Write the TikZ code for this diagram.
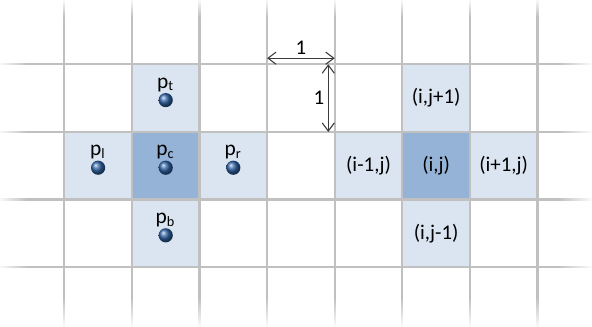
\documentclass[tikz,border=0pt]{standalone}
\usepackage{fontspec}
\setmainfont{Carlito}
\definecolor{gridgray}{RGB}{192, 192, 192}
\definecolor{cellblue}{RGB}{219, 229, 241}
\definecolor{centerblue}{RGB}{149, 179, 215}
\definecolor{balldark}{RGB}{48, 100, 165}
\definecolor{dimgray}{RGB}{60, 60, 60}
\usetikzlibrary{arrows.meta, positioning, fadings}
\tikzfading[name=fadetop, top color=transparent!10, bottom color=transparent!100]
\tikzfading[name=fadebottom, top color=transparent!100, bottom color=transparent!5]
\tikzfading[name=fadeleft, left color=transparent!10, right color=transparent!100]
\tikzfading[name=faderight, left color=transparent!100, right color=transparent!5]
\tikzset{
	gridline/.style={draw=gridgray, line width=0.9pt},
	cell/.style={fill=cellblue},
	centercell/.style={fill=centerblue},
	point/.style={circle, inner sep=0pt, minimum size=2.1mm, shading=ball, ball color=balldark},
	plabel/.style={font=\fontsize{9}{10}\selectfont, inner sep=0pt, anchor=base},
	idxlabel/.style={font=\fontsize{8.8}{10}\selectfont, inner sep=1pt},
	dimarrow/.style={{Straight Barb[length=1.2mm, width=1.8mm]}-{Straight Barb[length=1.2mm, width=1.8mm]}, draw=dimgray, line width=0.45pt},
	dimlabel/.style={font=\fontsize{8.8}{10}\selectfont, inner sep=1.5pt},
}

\begin{document}
\begin{tikzpicture}
		\useasboundingbox (-0.951,-0.886) rectangle (7.806,3.951);
		% cells
		\foreach \x/\y in {0/1, 2/1, 1/2, 1/0, 4/1, 6/1, 5/2, 5/0}
			\fill[cell] (\x,\y) rectangle ++(1,1);
		\fill[centercell] (1,1) rectangle ++(1,1);
		\fill[centercell] (5,1) rectangle ++(1,1);
		% grid
		\foreach \x in {0,...,7}
			\draw[gridline] (\x,-0.886) -- (\x,3.951);
		\foreach \y in {0,...,3}
			\draw[gridline] (-0.951,\y) -- (7.806,\y);
		\fill[white, path fading=fadetop] (-0.951,3.70) rectangle (7.806,3.951);
		\fill[white, path fading=fadebottom] (-0.951,-0.886) rectangle (7.806,-0.45);
		\fill[white, path fading=fadeleft] (-0.951,-0.886) rectangle (-0.55,3.951);
		\fill[white, path fading=faderight] (7.30,-0.886) rectangle (7.806,3.951);
		% points
		\node[point] (pt) at (1.5,2.47) {};
		\node[point] (pl) at (0.5,1.47) {};
		\node[point] (pc) at (1.5,1.47) {};
		\node[point] (pr) at (2.5,1.47) {};
		\node[point] (pb) at (1.5,0.47) {};
		\node[plabel] (ptlabel) at ([yshift=1.75mm]pt.center) {p\textsubscript{t}};
		\node[plabel] (pllabel) at ([yshift=1.75mm]pl.center) {p\textsubscript{l}};
		\node[plabel] (pclabel) at ([yshift=1.75mm]pc.center) {p\textsubscript{c}};
		\node[plabel] (prlabel) at ([yshift=1.75mm]pr.center) {p\textsubscript{r}};
		\node[plabel] (pblabel) at ([yshift=1.75mm]pb.center) {p\textsubscript{b}};
		% indices
		\node[idxlabel] (cij) at (5.5,1.5) {(i,j)};
		\node[idxlabel] (cimj) at (4.5,1.5) {(i-1,j)};
		\node[idxlabel] (cipj) at (6.5,1.5) {(i+1,j)};
		\node[idxlabel] (cijp) at (5.5,2.5) {(i,j+1)};
		\node[idxlabel] (cijm) at (5.5,0.5) {(i,j-1)};
		% unit lengths
		\coordinate (hdimA) at (3,3.09);
		\coordinate (hdimB) at (4,3.09);
		\coordinate (vdimA) at (3.905,3);
		\coordinate (vdimB) at (3.905,2);
		\draw[dimarrow] (hdimA) -- node[dimlabel, above] (hdimlabel) {1} (hdimB);
		\draw[dimarrow] (vdimA) -- node[dimlabel, left] (vdimlabel) {1} (vdimB);
	\end{tikzpicture}
\end{document}
